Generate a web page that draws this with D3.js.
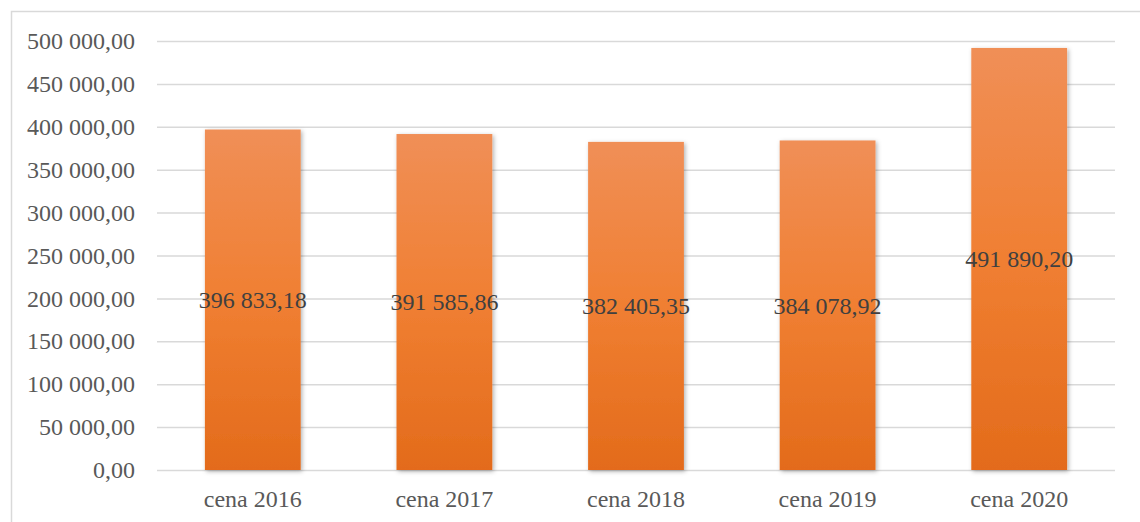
<!DOCTYPE html>
<html>
<head>
<meta charset="utf-8">
<script src="https://cdn.jsdelivr.net/npm/d3@7"></script>
<style>
  body { margin: 0; background: #fff; }
  svg { display: block; }
  text { font-family: "Liberation Serif", "Times New Roman", serif; }
</style>
</head>
<body>
<svg id="chart" width="1140" height="522"></svg>
<script>
// chart data
const categories = ["cena 2016", "cena 2017", "cena 2018", "cena 2019", "cena 2020"];
const values = [396833.18, 391585.86, 382405.35, 384078.92, 491890.20];
const yTicks = [0, 50000, 100000, 150000, 200000, 250000, 300000, 350000, 400000, 450000, 500000];

let svg = d3.select("#chart");
let width = +svg.attr("width");
let height = +svg.attr("height");

let plotLeft = 157, plotRight = 1115, plotTop = 41, plotBottom = 470;

// polish number format: space for thousands, comma for decimals
let locale = d3.formatLocale({ decimal: ",", thousands: " ", grouping: [3], currency: ["", ""] });
let fmt = locale.format(",.2f");

// frame around the chart
svg.append("rect")
    .attr("x", 11.5).attr("y", 11.5)
    .attr("width", width).attr("height", height)
    .attr("fill", "none")
    .attr("stroke", "#d9d9d9")
    .attr("stroke-width", 1.5);

let defs = svg.append("defs");
let grad = defs.append("linearGradient")
    .attr("id", "barGrad")
    .attr("x1", 0).attr("y1", 0).attr("x2", 0).attr("y2", 1);
grad.append("stop").attr("offset", "0%").attr("stop-color", "#f08f57");
grad.append("stop").attr("offset", "50%").attr("stop-color", "#f07f32");
grad.append("stop").attr("offset", "100%").attr("stop-color", "#e36b1b");

let shadow = defs.append("filter")
    .attr("id", "shadow")
    .attr("x", "-10%").attr("y", "-10%")
    .attr("width", "130%").attr("height", "130%");
shadow.append("feDropShadow")
    .attr("dx", 1.5).attr("dy", 1.5)
    .attr("stdDeviation", 2)
    .attr("flood-color", "#000")
    .attr("flood-opacity", 0.3);

let xScale = d3.scaleBand()
    .domain(categories)
    .range([plotLeft, plotRight])
    .paddingInner(0.5)
    .paddingOuter(0.25);

let yScale = d3.scaleLinear()
    .domain([0, 500000])
    .range([plotBottom, plotTop]);

// gridlines + y labels via axis
let yAxis = d3.axisLeft(yScale)
    .tickValues(yTicks)
    .tickFormat(fmt)
    .tickSize(-(plotRight - plotLeft))
    .tickPadding(22);

let yAxisG = svg.append("g")
    .attr("transform", "translate(" + plotLeft + ",0)")
    .call(yAxis);
yAxisG.select(".domain").remove();
yAxisG.selectAll("line")
    .attr("stroke", "#d9d9d9")
    .attr("stroke-width", 1.5);
yAxisG.selectAll("text")
    .attr("fill", "#595959")
    .style("font-size", "24px");

// bars
let bars = svg.append("g").selectAll("rect")
    .data(values)
    .enter().append("rect")
    .attr("x", (d, i) => xScale(categories[i]))
    .attr("y", d => yScale(d))
    .attr("width", xScale.bandwidth())
    .attr("height", d => yScale(0) - yScale(d))
    .attr("fill", "url(#barGrad)")
    .attr("filter", "url(#shadow)");

// value labels in the middle of each bar
svg.append("g").selectAll("text")
    .data(values)
    .enter().append("text")
    .attr("x", (d, i) => xScale(categories[i]) + xScale.bandwidth() / 2)
    .attr("y", d => (yScale(d) + yScale(0)) / 2)
    .attr("dy", "0.35em")
    .attr("text-anchor", "middle")
    .attr("fill", "#404040")
    .style("font-size", "24px")
    .text(d => fmt(d));

// x axis labels
let xAxis = d3.axisBottom(xScale).tickSize(0).tickPadding(20);
let xAxisG = svg.append("g")
    .attr("transform", "translate(0," + plotBottom + ")")
    .call(xAxis);
xAxisG.select(".domain").remove();
xAxisG.selectAll("text")
    .attr("fill", "#595959")
    .style("font-size", "24px");
</script>
</body>
</html>
